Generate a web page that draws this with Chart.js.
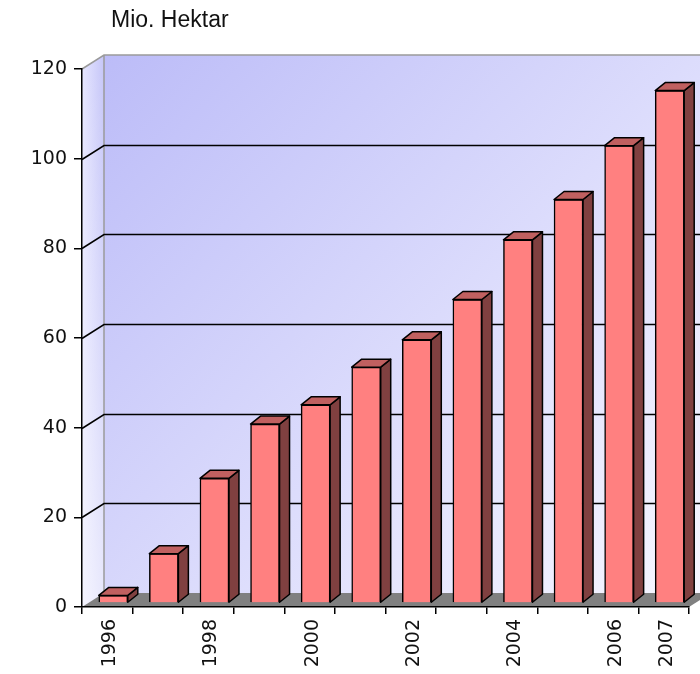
<!DOCTYPE html>
<html>
<head>
<meta charset="utf-8">
<script src="https://cdn.jsdelivr.net/npm/chart.js@4/dist/chart.umd.min.js"></script>
<style>
  html, body { margin: 0; padding: 0; background: #fff; }
  #wrap { position: relative; width: 700px; height: 674px; }
  #unit { position: absolute; left: 111px; top: 8px; font: 23px "Liberation Sans", Arial, sans-serif; line-height: 1; color: #111; }
</style>
</head>
<body>
<div id="wrap">
  <canvas id="chart" width="700" height="674"></canvas>
  <div id="unit">Mio. Hektar</div>
</div>
<script>
const years = ['1996', '1997', '1998', '1999', '2000', '2001', '2002', '2003', '2004', '2005', '2006', '2007']
const areas = [1.7, 11.0, 27.8, 39.9, 44.2, 52.6, 58.7, 67.7, 81.0, 90.0, 102.0, 114.3]
const shownYears = ['1996', '1998', '2000', '2002', '2004', '2006', '2007']
const yMax = 120
const yStep = 20

// depth of the back wall and of the bars
const wallDX = 22, wallDY = -14
const barShiftX = 6, barShiftY = -4
const barDX = 10, barDY = -8

const walls = {
    id: 'walls',
    beforeDraw(chart) {
        let {ctx, chartArea: a, scales: {y}} = chart
        let L = a.left, R = a.right, T = a.top, B = a.bottom
        let W = chart.width

        ctx.save()
        // back wall
        let g = ctx.createLinearGradient(L + wallDX, T + wallDY, R, B + wallDY)
        g.addColorStop(0, '#bcbcf8')
        g.addColorStop(0.55, '#dcdcfc')
        g.addColorStop(1, '#f6f6ff')
        ctx.fillStyle = g
        ctx.fillRect(L + wallDX, T + wallDY, W - L - wallDX, B - T)

        // left wall
        let g2 = ctx.createLinearGradient(L, 0, L + wallDX, 0)
        g2.addColorStop(0, '#e6e6ff')
        g2.addColorStop(1, '#c6c6f8')
        ctx.fillStyle = g2
        ctx.beginPath()
        ctx.moveTo(L, T)
        ctx.lineTo(L + wallDX, T + wallDY)
        ctx.lineTo(L + wallDX, B + wallDY)
        ctx.lineTo(L, B)
        ctx.closePath()
        ctx.fill()
        let g3 = ctx.createLinearGradient(0, T, 0, B)
        g3.addColorStop(0, 'rgba(255,255,255,0)')
        g3.addColorStop(1, 'rgba(255,255,255,0.6)')
        ctx.fillStyle = g3
        ctx.fill()

        // floor
        ctx.fillStyle = '#808080'
        ctx.beginPath()
        ctx.moveTo(L, B)
        ctx.lineTo(L + wallDX, B + wallDY)
        ctx.lineTo(R + wallDX, B + wallDY)
        ctx.lineTo(R, B)
        ctx.closePath()
        ctx.fill()

        // wall edges
        ctx.strokeStyle = '#9a9a9a'
        ctx.lineWidth = 1.5
        ctx.beginPath()
        ctx.moveTo(L, T)
        ctx.lineTo(L + wallDX, T + wallDY)
        ctx.lineTo(W, T + wallDY)
        ctx.moveTo(L + wallDX, T + wallDY)
        ctx.lineTo(L + wallDX, B + wallDY)
        ctx.stroke()

        // grid lines on the walls
        ctx.strokeStyle = '#000'
        ctx.lineWidth = 1.5
        y.ticks.forEach((t) => {
            if (t.value <= 0 || t.value >= yMax) return
            let py = Math.round(y.getPixelForValue(t.value)) + 0.5
            ctx.beginPath()
            ctx.moveTo(L, py)
            ctx.lineTo(L + wallDX, py + wallDY)
            ctx.lineTo(W, py + wallDY)
            ctx.stroke()
        })
        ctx.restore()
    },
}

const bars3d = {
    id: 'bars3d',
    beforeDatasetsDraw(chart) {
        chart.ctx.save()
        chart.ctx.translate(barShiftX, barShiftY)
    },
    afterDatasetsDraw(chart) {
        let ctx = chart.ctx
        let meta = chart.getDatasetMeta(0)
        ctx.lineWidth = 1.5
        ctx.strokeStyle = '#000'
        ctx.lineJoin = 'round'
        meta.data.forEach((bar) => {
            let {x, y, base, width} = bar.getProps(['x', 'y', 'base', 'width'], true)
            let l = x - width / 2, r = x + width / 2
            // side
            ctx.fillStyle = '#804040'
            ctx.beginPath()
            ctx.moveTo(r, y)
            ctx.lineTo(r + barDX, y + barDY)
            ctx.lineTo(r + barDX, base + barDY)
            ctx.lineTo(r, base)
            ctx.closePath()
            ctx.fill()
            ctx.stroke()
            // top
            ctx.fillStyle = '#c06060'
            ctx.beginPath()
            ctx.moveTo(l, y)
            ctx.lineTo(l + barDX, y + barDY)
            ctx.lineTo(r + barDX, y + barDY)
            ctx.lineTo(r, y)
            ctx.closePath()
            ctx.fill()
            ctx.stroke()
        })
        ctx.restore()
    },
}

const tickFont = {family: '"DejaVu Sans", Verdana, sans-serif', size: 19}

new Chart(document.getElementById('chart'), {
    type: 'bar',
    data: {
        labels: years,
        datasets: [{
            label: 'Mio. Hektar',
            data: areas,
            backgroundColor: '#ff8080',
            borderColor: '#000',
            borderWidth: 1.5,
            barThickness: 29,
            clip: false,
        }],
    },
    options: {
        responsive: false,
        animation: false,
        layout: {padding: {top: 69, right: 11, left: 0, bottom: 0}},
        plugins: {
            legend: {display: false},
            tooltip: {enabled: false},
        },
        scales: {
            x: {
                afterFit(scale) { scale.height = 67 },
                border: {display: true, color: '#000', width: 1.5},
                grid: {drawOnChartArea: false, drawTicks: true, tickLength: 7, color: '#000', lineWidth: 1.5, offset: true},
                ticks: {
                    autoSkip: false,
                    minRotation: 90,
                    maxRotation: 90,
                    labelOffset: 3,
                    padding: 5,
                    color: '#111',
                    font: tickFont,
                    callback(v) {
                        let lab = this.getLabelForValue(v)
                        return shownYears.includes(lab) ? lab : ''
                    },
                },
            },
            y: {
                min: 0,
                max: yMax,
                afterFit(scale) { scale.width = 82 },
                border: {display: true, color: '#000', width: 1.5},
                grid: {drawOnChartArea: false, drawTicks: true, tickLength: 8, color: '#000', lineWidth: 1.5},
                ticks: {stepSize: yStep, padding: 7, color: '#111', font: tickFont},
            },
        },
    },
    plugins: [walls, bars3d],
})
</script>
</body>
</html>
